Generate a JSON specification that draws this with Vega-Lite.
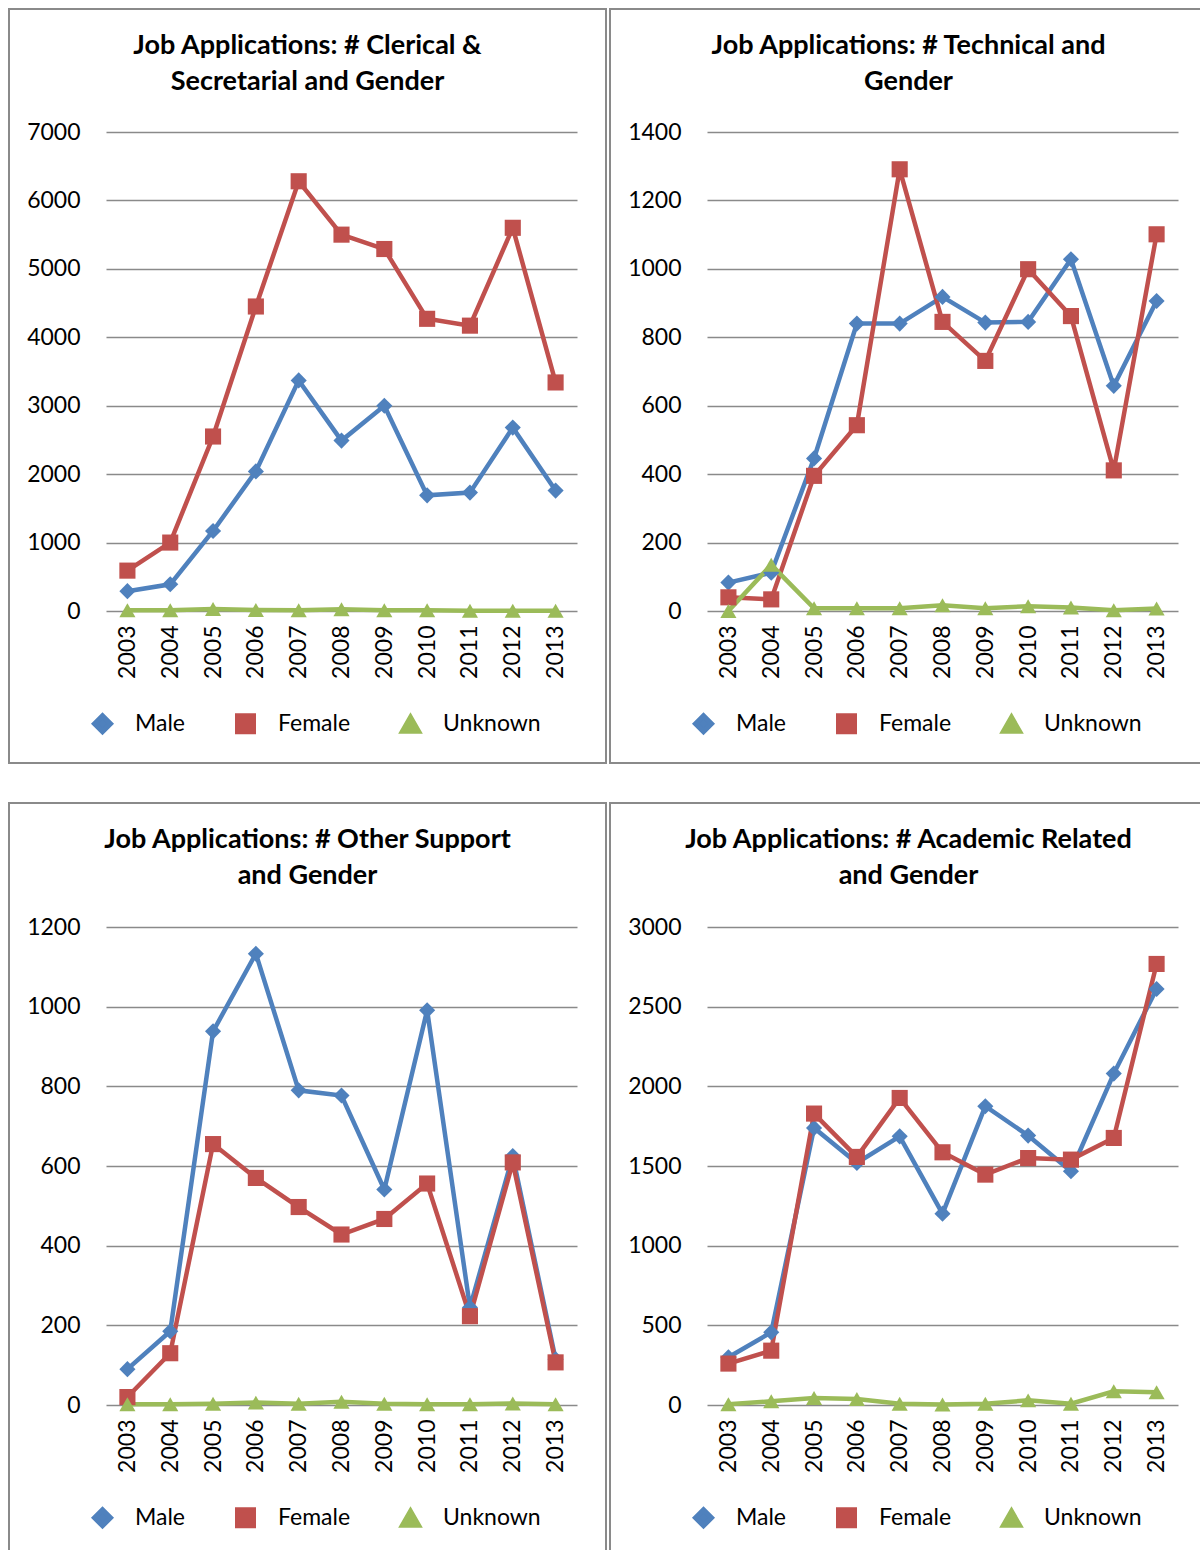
{
  "$schema": "https://vega.github.io/schema/vega-lite/v6.json",
  "padding": {"left": 8, "top": 8, "right": 0, "bottom": 0},
  "background": "white",
  "data": {"values": [
    {"panel": "Clerical", "year": "2003", "Male": 290, "Female": 590, "Unknown": 10},
    {"panel": "Clerical", "year": "2004", "Male": 390, "Female": 1000, "Unknown": 10},
    {"panel": "Clerical", "year": "2005", "Male": 1170, "Female": 2550, "Unknown": 30},
    {"panel": "Clerical", "year": "2006", "Male": 2040, "Female": 4450, "Unknown": 15},
    {"panel": "Clerical", "year": "2007", "Male": 3370, "Female": 6280, "Unknown": 10},
    {"panel": "Clerical", "year": "2008", "Male": 2490, "Female": 5500, "Unknown": 25},
    {"panel": "Clerical", "year": "2009", "Male": 3000, "Female": 5290, "Unknown": 10},
    {"panel": "Clerical", "year": "2010", "Male": 1690, "Female": 4270, "Unknown": 10},
    {"panel": "Clerical", "year": "2011", "Male": 1730, "Female": 4170, "Unknown": 5},
    {"panel": "Clerical", "year": "2012", "Male": 2680, "Female": 5600, "Unknown": 5},
    {"panel": "Clerical", "year": "2013", "Male": 1760, "Female": 3340, "Unknown": 5},
    {"panel": "Technical", "year": "2003", "Male": 83, "Female": 40, "Unknown": 0},
    {"panel": "Technical", "year": "2004", "Male": 112, "Female": 34, "Unknown": 135},
    {"panel": "Technical", "year": "2005", "Male": 446, "Female": 395, "Unknown": 8},
    {"panel": "Technical", "year": "2006", "Male": 840, "Female": 543, "Unknown": 8},
    {"panel": "Technical", "year": "2007", "Male": 840, "Female": 1291, "Unknown": 8},
    {"panel": "Technical", "year": "2008", "Male": 918, "Female": 845, "Unknown": 17},
    {"panel": "Technical", "year": "2009", "Male": 843, "Female": 731, "Unknown": 8},
    {"panel": "Technical", "year": "2010", "Male": 845, "Female": 999, "Unknown": 14},
    {"panel": "Technical", "year": "2011", "Male": 1028, "Female": 862, "Unknown": 10},
    {"panel": "Technical", "year": "2012", "Male": 658, "Female": 411, "Unknown": 2},
    {"panel": "Technical", "year": "2013", "Male": 906, "Female": 1101, "Unknown": 7},
    {"panel": "Other", "year": "2003", "Male": 90, "Female": 20, "Unknown": 2},
    {"panel": "Other", "year": "2004", "Male": 185, "Female": 130, "Unknown": 2},
    {"panel": "Other", "year": "2005", "Male": 938, "Female": 655, "Unknown": 3},
    {"panel": "Other", "year": "2006", "Male": 1133, "Female": 570, "Unknown": 6},
    {"panel": "Other", "year": "2007", "Male": 790, "Female": 497, "Unknown": 3},
    {"panel": "Other", "year": "2008", "Male": 777, "Female": 428, "Unknown": 8},
    {"panel": "Other", "year": "2009", "Male": 541, "Female": 467, "Unknown": 3},
    {"panel": "Other", "year": "2010", "Male": 991, "Female": 556, "Unknown": 2},
    {"panel": "Other", "year": "2011", "Male": 245, "Female": 223, "Unknown": 2},
    {"panel": "Other", "year": "2012", "Male": 625, "Female": 609, "Unknown": 4},
    {"panel": "Other", "year": "2013", "Male": 115, "Female": 107, "Unknown": 2},
    {"panel": "Academic", "year": "2003", "Male": 300, "Female": 260, "Unknown": 5},
    {"panel": "Academic", "year": "2004", "Male": 456, "Female": 341, "Unknown": 23},
    {"panel": "Academic", "year": "2005", "Male": 1739, "Female": 1829, "Unknown": 44},
    {"panel": "Academic", "year": "2006", "Male": 1519, "Female": 1557, "Unknown": 38},
    {"panel": "Academic", "year": "2007", "Male": 1686, "Female": 1927, "Unknown": 8},
    {"panel": "Academic", "year": "2008", "Male": 1201, "Female": 1586, "Unknown": 3},
    {"panel": "Academic", "year": "2009", "Male": 1875, "Female": 1446, "Unknown": 8},
    {"panel": "Academic", "year": "2010", "Male": 1691, "Female": 1550, "Unknown": 29},
    {"panel": "Academic", "year": "2011", "Male": 1467, "Female": 1540, "Unknown": 8},
    {"panel": "Academic", "year": "2012", "Male": 2080, "Female": 1676, "Unknown": 86},
    {"panel": "Academic", "year": "2013", "Male": 2611, "Female": 2768, "Unknown": 80}
  ]},
  "columns": 2,
  "spacing": {"row": 38, "column": 2},
  "resolve": {
    "scale": {"x": "independent", "y": "independent", "color": "independent", "shape": "independent"},
    "legend": {"color": "independent", "shape": "independent"}
  },
  "config": {
    "font": "Lato",
    "view": {"stroke": "#8a8a8a", "strokeWidth": 2, "fill": "white"},
    "title": {"font": "Lato", "fontSize": 27, "fontWeight": "bold", "color": "#000000", "anchor": "middle", "frame": "group", "offset": -87, "lineHeight": 36},
    "axis": {"labelFont": "Lato", "labelFontSize": 23, "labelColor": "#000000", "title": null, "ticks": false, "domain": false},
    "legend": {"orient": "none", "direction": "horizontal", "legendX": 82, "legendY": 703, "title": null, "labelFont": "Lato", "labelFontSize": 23, "labelColor": "#000000", "symbolSize": 256, "labelOffset": 21, "columnPadding": 41, "padding": 0}
  },
  "concat": [
    {
      "width": 597, "height": 754,
      "title": {"text": ["Job Applications: # Clerical &", "Secretarial and Gender"]},
      "transform": [{"filter": "datum.panel === 'Clerical'"}, {"fold": ["Male", "Female", "Unknown"], "as": ["gender", "value"]}],
      "encoding": {
        "x": {"field": "year", "type": "ordinal", "scale": {"type": "point", "range": [97, 568], "padding": 0.5}, "axis": {"orient": "bottom", "offset": -152, "labelAngle": -90, "labelPadding": 14, "grid": false}},
        "y": {"field": "value", "type": "quantitative", "scale": {"domain": [0, 7000], "range": [602, 123], "nice": false}, "axis": {"values": [0, 1000, 2000, 3000, 4000, 5000, 6000, 7000], "format": "d", "offset": -97, "labelPadding": 26, "grid": true, "gridColor": "#8a8a8a", "gridWidth": 1.6}},
        "color": {"field": "gender", "type": "nominal", "scale": {"domain": ["Male", "Female", "Unknown"], "range": ["#4F81BD", "#C0504D", "#9BBB59"]},
          "legend": {"encode": {"symbols": {"update": {"strokeWidth": {"value": 5}}}}}}
      },
      "layer": [
        {"mark": {"type": "line", "strokeWidth": 4.5}},
        {"mark": {"type": "point", "filled": true, "size": 260, "opacity": 1}, "encoding": {"shape": {"field": "gender", "type": "nominal", "scale": {"domain": ["Male", "Female", "Unknown"], "range": ["diamond", "square", "triangle-up"]}, "legend": null}}}
      ]
    },
    {
      "width": 597, "height": 754,
      "title": {"text": ["Job Applications: # Technical and", "Gender"]},
      "transform": [{"filter": "datum.panel === 'Technical'"}, {"fold": ["Male", "Female", "Unknown"], "as": ["gender", "value"]}],
      "encoding": {
        "x": {"field": "year", "type": "ordinal", "scale": {"type": "point", "range": [97, 568], "padding": 0.5}, "axis": {"orient": "bottom", "offset": -152, "labelAngle": -90, "labelPadding": 14, "grid": false}},
        "y": {"field": "value", "type": "quantitative", "scale": {"domain": [0, 1400], "range": [602, 123], "nice": false}, "axis": {"values": [0, 200, 400, 600, 800, 1000, 1200, 1400], "format": "d", "offset": -97, "labelPadding": 26, "grid": true, "gridColor": "#8a8a8a", "gridWidth": 1.6}},
        "color": {"field": "gender", "type": "nominal", "scale": {"domain": ["Male", "Female", "Unknown"], "range": ["#4F81BD", "#C0504D", "#9BBB59"]},
          "legend": {"encode": {"symbols": {"update": {"strokeWidth": {"value": 5}}}}}}
      },
      "layer": [
        {"mark": {"type": "line", "strokeWidth": 4.5}},
        {"mark": {"type": "point", "filled": true, "size": 260, "opacity": 1}, "encoding": {"shape": {"field": "gender", "type": "nominal", "scale": {"domain": ["Male", "Female", "Unknown"], "range": ["diamond", "square", "triangle-up"]}, "legend": null}}}
      ]
    },
    {
      "width": 597, "height": 754,
      "title": {"text": ["Job Applications: # Other Support", "and Gender"]},
      "transform": [{"filter": "datum.panel === 'Other'"}, {"fold": ["Male", "Female", "Unknown"], "as": ["gender", "value"]}],
      "encoding": {
        "x": {"field": "year", "type": "ordinal", "scale": {"type": "point", "range": [97, 568], "padding": 0.5}, "axis": {"orient": "bottom", "offset": -152, "labelAngle": -90, "labelPadding": 14, "grid": false}},
        "y": {"field": "value", "type": "quantitative", "scale": {"domain": [0, 1200], "range": [602, 124], "nice": false}, "axis": {"values": [0, 200, 400, 600, 800, 1000, 1200], "format": "d", "offset": -97, "labelPadding": 26, "grid": true, "gridColor": "#8a8a8a", "gridWidth": 1.6}},
        "color": {"field": "gender", "type": "nominal", "scale": {"domain": ["Male", "Female", "Unknown"], "range": ["#4F81BD", "#C0504D", "#9BBB59"]},
          "legend": {"encode": {"symbols": {"update": {"strokeWidth": {"value": 5}}}}}}
      },
      "layer": [
        {"mark": {"type": "line", "strokeWidth": 4.5}},
        {"mark": {"type": "point", "filled": true, "size": 260, "opacity": 1}, "encoding": {"shape": {"field": "gender", "type": "nominal", "scale": {"domain": ["Male", "Female", "Unknown"], "range": ["diamond", "square", "triangle-up"]}, "legend": null}}}
      ]
    },
    {
      "width": 597, "height": 754,
      "title": {"text": ["Job Applications: # Academic Related", "and Gender"]},
      "transform": [{"filter": "datum.panel === 'Academic'"}, {"fold": ["Male", "Female", "Unknown"], "as": ["gender", "value"]}],
      "encoding": {
        "x": {"field": "year", "type": "ordinal", "scale": {"type": "point", "range": [97, 568], "padding": 0.5}, "axis": {"orient": "bottom", "offset": -152, "labelAngle": -90, "labelPadding": 14, "grid": false}},
        "y": {"field": "value", "type": "quantitative", "scale": {"domain": [0, 3000], "range": [602, 124], "nice": false}, "axis": {"values": [0, 500, 1000, 1500, 2000, 2500, 3000], "format": "d", "offset": -97, "labelPadding": 26, "grid": true, "gridColor": "#8a8a8a", "gridWidth": 1.6}},
        "color": {"field": "gender", "type": "nominal", "scale": {"domain": ["Male", "Female", "Unknown"], "range": ["#4F81BD", "#C0504D", "#9BBB59"]},
          "legend": {"encode": {"symbols": {"update": {"strokeWidth": {"value": 5}}}}}}
      },
      "layer": [
        {"mark": {"type": "line", "strokeWidth": 4.5}},
        {"mark": {"type": "point", "filled": true, "size": 260, "opacity": 1}, "encoding": {"shape": {"field": "gender", "type": "nominal", "scale": {"domain": ["Male", "Female", "Unknown"], "range": ["diamond", "square", "triangle-up"]}, "legend": null}}}
      ]
    }
  ]
}
